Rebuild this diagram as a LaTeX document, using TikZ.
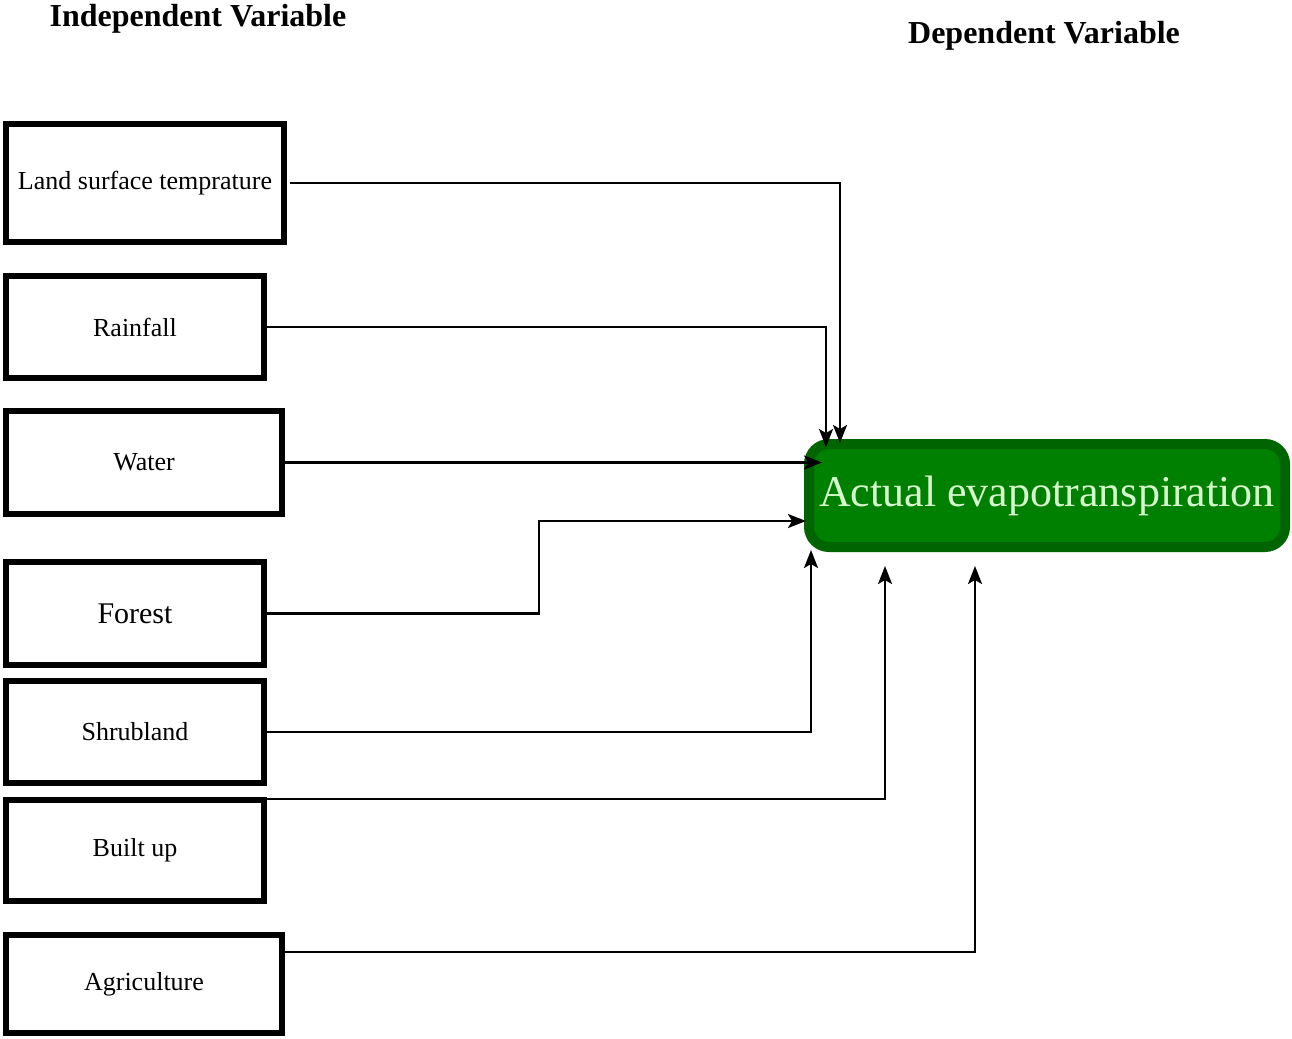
\documentclass[tikz,border=0pt]{standalone}
\usepackage{fontspec}
\setmainfont{Liberation Serif}
\usepackage{xcolor}
\usetikzlibrary{arrows.meta}
\definecolor{aetfill}{RGB}{0,128,0}
\definecolor{aetrim}{RGB}{0,100,0}
\definecolor{aettext}{RGB}{215,248,205}

\begin{document}
\begin{tikzpicture}[x=1pt, y=-1pt,
        heading/.style={font=\bfseries\fontsize{32}{36}\selectfont},
        varbox/.style={draw, line width=6pt, inner sep=0pt, font=\fontsize{26}{30}\selectfont},
        link/.style={line width=2.4pt, -{Stealth[length=18pt, width=14pt, inset=4pt]}}]
                \useasboundingbox (0, 0) rectangle (1292, 1038);

                \node[heading] (indep) at (198, 19) {Independent Variable};
                \node[heading] (dep) at (1044, 36) {Dependent Variable};

                \node[varbox, minimum width=278pt, minimum height=118pt] (lst) at (145, 183) {Land surface temprature};
                \node[varbox, minimum width=258pt, minimum height=102pt] (ra) at (135, 327) {Rainfall};
                \node[varbox, minimum width=276pt, minimum height=103pt] (wa) at (144, 462.5) {Water};
                \node[varbox, minimum width=258pt, minimum height=103pt, font=\fontsize{30}{34}\selectfont] (fo) at (135, 613.5) {Forest};
                \node[varbox, minimum width=258pt, minimum height=102pt] (sh) at (135, 732) {Shrubland};
                \node[varbox, minimum width=258pt, minimum height=101pt] (bu) at (135, 850.5) {Built up};
                \node[varbox, minimum width=276pt, minimum height=98pt] (ag) at (144, 984) {Agriculture};

                \node[draw=aetrim, fill=aetfill, line width=10pt, rounded corners=20pt, inner sep=2pt,
                    minimum width=476pt, minimum height=103pt, text=aettext,
                    font=\fontsize{44}{50}\selectfont] (aet) at (1047, 495.5) {\raisebox{-3pt}{Actual evapotranspiration}};

                \draw[link] ([xshift=3pt]lst.east) -| ([xshift=36pt, yshift=-4pt]aet.north west);
                \draw[link] (ra.east) -| ([xshift=22pt, yshift=-8pt]aet.north west);
                \draw[link] (wa.east) -- ([xshift=18pt, yshift=-23.5pt]aet.north west);
                \draw[link] (fo.east) -- ++(272, 0) |- ([xshift=2pt, yshift=-82pt]aet.north west);
                \draw[link] (sh.east) -| ([xshift=7pt, yshift=2pt]aet.south west);
                \draw[link] ([yshift=-2pt]bu.north east) -| ([xshift=81pt, yshift=-14pt]aet.south west);
                \draw[link] ([yshift=32pt]ag.east) -| ([xshift=171pt, yshift=-14pt]aet.south west);
\end{tikzpicture}
\end{document}
